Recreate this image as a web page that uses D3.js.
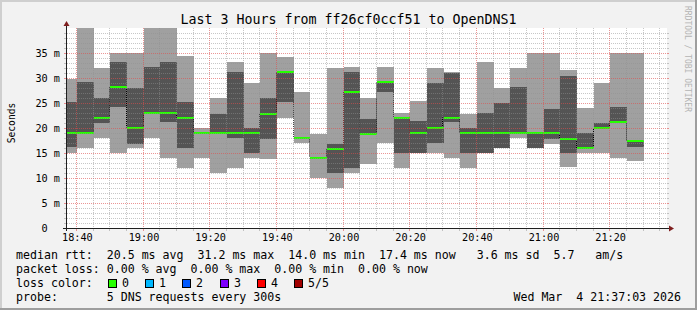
<!DOCTYPE html>
<html><head><meta charset="utf-8">
<script src="https://cdn.jsdelivr.net/npm/d3@7"></script>
<style>
html,body{margin:0;padding:0;background:#f2f2f2;}
svg text{font-family:"DejaVu Sans Mono",monospace;white-space:pre;fill:#000;}
</style></head><body>
<svg id="c" width="697" height="310"></svg>
<script>
// ---- data (5 pings per 5-minute step, sorted) ----
const barEnds = ["18:40","18:45","18:50","18:55","19:00","19:05","19:10","19:15","19:20","19:25",
  "19:30","19:35","19:40","19:45","19:50","19:55","20:00","20:05","20:10","20:15",
  "20:20","20:25","20:30","20:35","20:40","20:45","20:50","20:55","21:00","21:05",
  "21:10","21:15","21:20","21:25","21:30"];
const pingMin = [15.0,16.0,18.0,15.0,16.0,18.0,14.0,12.0,14.0,11.0,
  12.0,14.0,13.8,22.0,17.0,10.0,8.0,11.0,12.8,17.0,
  12.0,15.0,15.0,14.0,12.0,15.0,16.0,18.0,16.0,16.8,
  12.2,15.0,15.0,14.0,13.4];
const ping2 = [16.2,18.9,21.1,24.2,16.9,22.8,21.3,16.0,19.0,18.9,
  18.0,15.0,17.8,25.2,17.8,14.0,11.0,12.0,18.8,27.2,
  15.0,15.0,17.0,21.3,15.0,15.0,16.0,19.0,16.0,17.8,
  15.0,16.0,20.0,21.3,16.2];
const median = [19.0,19.0,22.1,28.2,20.1,23.0,23.0,22.1,19.1,19.0,
  19.0,19.0,22.9,31.2,18.1,14.1,15.8,27.2,18.9,29.2,
  22.0,19.0,20.0,22.1,19.0,19.0,19.0,19.0,19.0,19.0,
  17.8,16.0,20.0,21.3,17.4];
const ping4 = [25.2,29.2,26.0,33.2,28.0,32.2,33.2,25.2,19.2,22.9,
  31.2,20.1,26.0,31.4,18.3,14.3,16.8,31.2,21.8,29.3,
  22.1,21.4,29.0,31.1,20.0,23.0,25.0,28.2,19.0,23.8,
  30.4,19.0,21.0,24.2,17.4];
const pingMax = [29.8,42.0,32.1,35.0,35.0,41.0,40.5,34.4,20.1,26.0,
  33.2,29.0,35.0,34.2,27.2,18.8,32.0,32.2,26.0,32.2,
  23.0,25.4,32.0,31.2,22.8,33.2,28.0,32.0,35.0,35.0,
  31.6,24.0,29.0,35.0,35.0];

const xTickLabels = ["18:40","19:00","19:20","19:40","20:00","20:20","20:40","21:00","21:20"];
const yTickValues = [0,5,10,15,20,25,30,35];
const yTickLabels = ["0\u00a0\u00a0","5 m","10 m","15 m","20 m","25 m","30 m","35 m"];
const lossLabels = ["0","1","2","3","4","5/5"];
const lossColors = ["#26ff00","#00b8ff","#0059ff","#7e00ff","#ff0000","#a10000"];
const legendRows = [
  "median rtt:  20.5 ms avg  31.2 ms max  14.0 ms min  17.4 ms now   3.6 ms sd  5.7   am/s",
  "packet loss: 0.00 % avg  0.00 % max  0.00 % min  0.00 % now",
  "loss color:",
  "probe:       5 DNS requests every 300s"
];
const titleText = "Last 3 Hours from ff26cf0ccf51 to OpenDNS1";
const dateText = "Wed Mar  4 21:37:03 2026";

// ---- scales ----
const parseT = d3.timeParse("%H:%M:%S");
const t0 = parseT("18:37:03"), t1 = parseT("21:37:03");
const L = 67, R = 667, T = 28, B = 228;
const x = d3.scaleTime().domain([t0, t1]).range([L, R]);
const y = d3.scaleLinear().domain([0, 40]).range([B, T]);

const svg = d3.select("#c");
// background + shading frame
svg.append("rect").attr("x",0).attr("y",0).attr("width",697).attr("height",310).attr("fill","#f2f2f2");
svg.append("rect").attr("x",0).attr("y",0).attr("width",697).attr("height",2).attr("fill","#cfcfcf");
svg.append("rect").attr("x",0).attr("y",0).attr("width",2).attr("height",310).attr("fill","#cfcfcf");
svg.append("rect").attr("x",0).attr("y",308).attr("width",697).attr("height",2).attr("fill","#9e9e9e");
svg.append("rect").attr("x",695).attr("y",0).attr("width",2).attr("height",310).attr("fill","#9e9e9e");
// canvas
svg.append("rect").attr("x",L).attr("y",T).attr("width",R-L).attr("height",B-T).attr("fill","#ffffff");

svg.append("clipPath").attr("id","plot").append("rect").attr("x",L).attr("y",T).attr("width",R-L).attr("height",B-T);

const bars = barEnds.map((e,i) => {
  const end = parseT(e + ":00");
  const start = new Date(Math.max(+t0, +end - 5*60*1000));
  return {start, end, mn: pingMin[i], p2: ping2[i], md: median[i], p4: ping4[i], mx: pingMax[i]};
});

const g = svg.append("g").attr("clip-path","url(#plot)");
g.selectAll("rect.light").data(bars).join("rect").attr("class","light")
  .attr("x", d => x(d.start)).attr("width", d => x(d.end) - x(d.start))
  .attr("y", d => y(d.mx)).attr("height", d => y(d.mn) - y(d.mx))
  .attr("fill", "#a0a0a0").attr("shape-rendering","crispEdges");
g.selectAll("rect.dark").data(bars).join("rect").attr("class","dark")
  .attr("x", d => x(d.start)).attr("width", d => x(d.end) - x(d.start))
  .attr("y", d => y(d.p4)).attr("height", d => y(d.p2) - y(d.p4))
  .attr("fill", "#545454").attr("shape-rendering","crispEdges");

// median vertical connectors
const conn = bars.slice(1).map((d,i) => ({xv: x(d.start), a: bars[i].md, b: d.md}));
g.selectAll("line.conn").data(conn).join("line").attr("class","conn")
  .attr("x1", d => Math.round(d.xv) - 0.5).attr("x2", d => Math.round(d.xv) - 0.5)
  .attr("y1", d => y(d.a)).attr("y2", d => y(d.b))
  .attr("stroke","#000").attr("stroke-width",1).attr("stroke-dasharray","1,1");
// median green segments
g.selectAll("rect.med").data(bars).join("rect").attr("class","med")
  .attr("x", d => x(d.start)).attr("width", d => x(d.end) - x(d.start))
  .attr("y", d => Math.round(y(d.md)) - 1).attr("height", 2)
  .attr("fill", lossColors[0]).attr("shape-rendering","crispEdges");

// grid (drawn on top)
const minorCol = "rgba(143,143,143,0.5)", majorCol = "rgba(222,79,79,0.6)";
const gg = svg.append("g").attr("shape-rendering","crispEdges");
const hVals = d3.range(1, 40);
hVals.forEach(v => {
  const yy = Math.round(y(v)) + 0.5;
  const major = v % 5 === 0;
  const col = major ? majorCol : minorCol;
  gg.append("line").attr("x1",L).attr("x2",R).attr("y1",yy).attr("y2",yy)
    .attr("stroke",col).attr("stroke-dasharray","1,1");
  gg.append("line").attr("x1",L-3).attr("x2",L-1).attr("y1",yy).attr("y2",yy).attr("stroke",col);
  gg.append("line").attr("x1",R).attr("x2",R+2).attr("y1",yy).attr("y2",yy).attr("stroke",col);
});
const vTimes = d3.timeMinute.every(5).range(t0, t1);
vTimes.forEach(t => {
  const xx = Math.round(x(t)) - 0.5;
  const major = t.getMinutes() % 20 === 0;
  const col = major ? majorCol : minorCol;
  gg.append("line").attr("x1",xx).attr("x2",xx).attr("y1",T).attr("y2",B)
    .attr("stroke",col).attr("stroke-dasharray","1,1");
  gg.append("line").attr("x1",xx).attr("x2",xx).attr("y1",B+1).attr("y2",B+3).attr("stroke",col);
});

// axes lines
const axCol = "#1f1f1f";
svg.append("line").attr("x1",L-0.5).attr("x2",L-0.5).attr("y1",B+3).attr("y2",T-3)
  .attr("stroke",axCol).attr("shape-rendering","crispEdges");
svg.append("line").attr("x1",L-4).attr("x2",R+3).attr("y1",B+0.5).attr("y2",B+0.5)
  .attr("stroke",axCol).attr("shape-rendering","crispEdges");
const arrowCol = "#7f1f1f";
svg.append("path").attr("d",`M${L-3.5},${T-2} L${L+2.5},${T-2} L${L-0.5},${T-7} Z`).attr("fill",arrowCol);
svg.append("path").attr("d",`M${R+2},${B-2.5} L${R+2},${B+3.5} L${R+7},${B+0.5} Z`).attr("fill",arrowCol);

// axis labels using d3 axes
const xAx = svg.append("g").attr("transform",`translate(0,${B})`)
  .call(d3.axisBottom(x).tickValues(xTickLabels.map(s => parseT(s+":00")))
        .tickFormat(d3.timeFormat("%H:%M")).tickSize(0));
xAx.select(".domain").remove();
xAx.selectAll("text").attr("y",13).attr("dy",null)
  .style("font-family","'DejaVu Sans Mono',monospace").style("font-size","10.2px").attr("fill","#000");

const yAx = svg.append("g").attr("transform",`translate(${L},0)`)
  .call(d3.axisLeft(y).tickValues(yTickValues).tickFormat((d,i) => yTickLabels[i]).tickSize(0).tickPadding(7));
yAx.select(".domain").remove();
yAx.selectAll("text").attr("dy","3.5")
  .style("font-family","'DejaVu Sans Mono',monospace").style("font-size","10.2px").attr("fill","#000");

// title
svg.append("text").attr("x",348.5).attr("y",24).attr("text-anchor","middle")
  .style("font-size","13.3px").text(titleText);
// vertical label
svg.append("text").attr("transform","translate(15,123) rotate(-90)").attr("text-anchor","middle")
  .style("font-size","9.6px").text("Seconds");
// watermark
svg.append("text").attr("transform","translate(685,6) rotate(90)")
  .style("font-size","8px").style("fill","#b4b4b4").text("RRDTOOL / TOBI OETIKER");

// legend
const rowY = [258.5, 272.5, 286.5, 300.5];
legendRows.forEach((s,i) => {
  svg.append("text").attr("x",16).attr("y",rowY[i]).style("font-size","11.6px").text(s);
});
lossLabels.forEach((lab,i) => {
  const bx = 108 + i*37.2;
  svg.append("rect").attr("x",Math.round(bx)+0.5).attr("y",279.5).attr("width",8).attr("height",8)
    .attr("fill",lossColors[i]).attr("stroke","#000").attr("stroke-width",1);
  svg.append("text").attr("x",Math.round(bx)+14).attr("y",rowY[2]).style("font-size","11.6px").text(lab);
});
svg.append("text").attr("x",681).attr("y",rowY[3]).attr("text-anchor","end").style("font-size","11.6px").text(dateText);
</script>
</body></html>
